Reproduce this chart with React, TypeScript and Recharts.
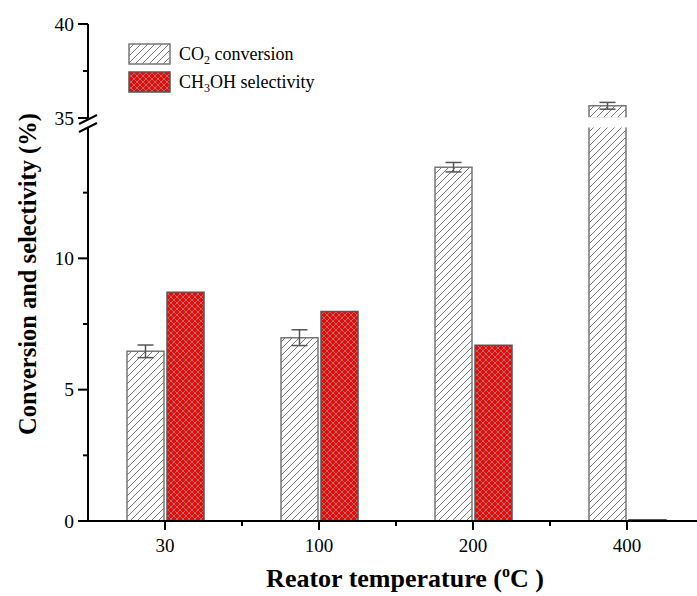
import { BarChart, Bar, XAxis, YAxis, ErrorBar, Legend } from 'recharts'

const temps = ['30', '100', '200', '400']
const co2Conversion = [6.46, 6.98, 13.47, 35.65]
const co2Error = [0.24, 0.3, 0.18, 0.18]
const ch3ohSelectivity = [8.71, 7.98, 6.69, 0.05]
const lowerTicks = [0, 2.5, 5, 7.5, 10, 12.5]
const upperTicks = [35, 37.5, 40]

// broken axis: lower part 0-15, upper part 35-40
const BREAK_LOW = 15
const BREAK_HIGH = 35

const lowerData = temps.map((t, i) => ({
  temp: t,
  co2: co2Conversion[i],
  err: co2Error[i],
  ch3oh: ch3ohSelectivity[i],
}))

const upperData = temps.map((t, i) => ({
  temp: t,
  co2: co2Conversion[i] > BREAK_HIGH ? co2Conversion[i] : null,
  err: co2Conversion[i] > BREAK_HIGH ? co2Error[i] : null,
  ch3oh: ch3ohSelectivity[i] > BREAK_HIGH ? ch3ohSelectivity[i] : null,
}))

const FONT = '"Liberation Serif", "Times New Roman", serif'
const HALF_BAND = 77

const YTick = ({ x, y, payload }: any) => {
  const v = payload.value
  const major = v % 5 === 0
  return (
    <g>
      <line x1={x - (major ? 10 : 5)} x2={x} y1={y} y2={y} stroke="#000" strokeWidth={2} />
      {major && (
        <text x={x - 14} y={y} dy={6.5} textAnchor="end" fontSize={19.5} fontFamily={FONT} fill="#000">
          {v}
        </text>
      )}
    </g>
  )
}

const XTick = ({ x, y, payload }: any) => (
  <g>
    <line x1={x} x2={x} y1={y} y2={y + 9} stroke="#000" strokeWidth={2} />
    <line x1={x + HALF_BAND} x2={x + HALF_BAND} y1={y} y2={y + 5} stroke="#000" strokeWidth={2} />
    <text x={x} y={y + 31} textAnchor="middle" fontSize={19} fontFamily={FONT} fill="#000">
      {payload.value}
    </text>
  </g>
)

const XTitle = () => (
  <text x={405} y={587} textAnchor="middle" fontSize={26} fontWeight="bold" fontFamily={FONT} fill="#000">
    <tspan>Reator temperature (</tspan>
    <tspan dy={-10} fontSize={16}>o</tspan>
    <tspan dy={10}>C )</tspan>
  </text>
)

const YTitle = () => (
  <text
    x={36}
    y={274}
    transform="rotate(-90 36 274)"
    textAnchor="middle"
    fontSize={24.5}
    fontWeight="bold"
    fontFamily={FONT}
    fill="#000"
  >
    Conversion and selectivity (%)
  </text>
)

const LegendBox = () => (
  <svg width={220} height={56} style={{ display: 'block' }}>
    <rect x={1} y={1} width={41} height={20} fill="url(#hatch)" stroke="#777" strokeWidth={1.5} />
    <rect x={1} y={29} width={41} height={20} fill="url(#cross)" stroke="#555" strokeWidth={1.5} />
    <text x={51} y={17} fontSize={18} fontFamily={FONT} fill="#000">
      <tspan>CO</tspan>
      <tspan dy={4} fontSize={12}>2</tspan>
      <tspan dy={-4}> conversion</tspan>
    </text>
    <text x={51} y={45} fontSize={18} fontFamily={FONT} fill="#000">
      <tspan>CH</tspan>
      <tspan dy={4} fontSize={12}>3</tspan>
      <tspan dy={-4}>OH selectivity</tspan>
    </text>
  </svg>
)

export default function App() {
  return (
    <div
      style={{
        position: 'fixed',
        left: 0,
        top: 0,
        width: 697,
        height: 596,
        overflow: 'hidden',
        background: '#fff',
      }}
    >
      <div style={{ position: 'absolute', left: 0, top: 0 }}>
        <BarChart
          width={704}
          height={596}
          data={lowerData}
          barGap={3}
          margin={{ top: 127, right: 0, bottom: 0, left: 0 }}
        >
          <defs>
            <pattern id="hatch" patternUnits="userSpaceOnUse" width={7} height={7}>
              <rect width={7} height={7} fill="#fff" />
              <path d="M0,7 L7,0 M-1,1 L1,-1 M6,8 L8,6" stroke="#777" strokeWidth={1} />
            </pattern>
            <pattern id="cross" patternUnits="userSpaceOnUse" width={6} height={6}>
              <rect width={6} height={6} fill="#ff0000" />
              <path d="M0,0 L6,6 M0,6 L6,0" stroke="#888" strokeWidth={0.9} />
            </pattern>
          </defs>
          <XAxis
            dataKey="temp"
            height={75}
            interval={0}
            tickSize={0}
            tickMargin={0}
            tickLine={false}
            tick={<XTick />}
            axisLine={{ stroke: '#000', strokeWidth: 2 }}
            label={<XTitle />}
          />
          <YAxis
            width={88}
            domain={[0, BREAK_LOW]}
            ticks={lowerTicks}
            interval={0}
            allowDataOverflow
            tickSize={0}
            tickMargin={0}
            tickLine={false}
            tick={<YTick />}
            axisLine={{ stroke: '#000', strokeWidth: 2 }}
            label={<YTitle />}
          />
          <Bar dataKey="co2" fill="url(#hatch)" stroke="#777" strokeWidth={1.5} barSize={37} isAnimationActive={false}>
            <ErrorBar dataKey="err" width={8} stroke="#555" strokeWidth={1.5} />
          </Bar>
          <Bar dataKey="ch3oh" fill="url(#cross)" stroke="#555" strokeWidth={1.5} barSize={37} isAnimationActive={false} />
        </BarChart>
      </div>
      <div style={{ position: 'absolute', left: 0, top: 0 }}>
        <BarChart
          width={704}
          height={132}
          data={upperData}
          barGap={3}
          margin={{ top: 24, right: 0, bottom: 14, left: 0 }}
        >
          <XAxis
            dataKey="temp"
            orientation="top"
            height={0}
            tick={false}
            tickLine={false}
            axisLine={{ stroke: '#000', strokeWidth: 2 }}
          />
          <YAxis
            width={88}
            domain={[BREAK_HIGH, 40]}
            ticks={upperTicks}
            interval={0}
            allowDataOverflow
            tickSize={0}
            tickMargin={0}
            tickLine={false}
            tick={<YTick />}
            axisLine={{ stroke: '#000', strokeWidth: 2 }}
          />
          <Legend
            layout="vertical"
            align="center"
            verticalAlign="middle"
            content={<LegendBox />}
            wrapperStyle={{ left: 128, top: 43, width: 220, height: 56 }}
          />
          <Bar dataKey="co2" fill="url(#hatch)" stroke="#777" strokeWidth={1.5} barSize={37} isAnimationActive={false}>
            <ErrorBar dataKey="err" width={8} stroke="#555" strokeWidth={1.5} />
          </Bar>
          <Bar dataKey="ch3oh" fill="url(#cross)" stroke="#555" strokeWidth={1.5} barSize={37} isAnimationActive={false} />
        </BarChart>
      </div>
      <svg
        width={697}
        height={596}
        style={{ position: 'absolute', left: 0, top: 0, pointerEvents: 'none' }}
      >
        {/* white gap across the plot where the axis is broken */}
        <rect x={90} y={117.2} width={607} height={10.3} fill="#fff" />
        <line x1={79} y1={124} x2={97} y2={115} stroke="#000" strokeWidth={2} />
        <line x1={79} y1={132} x2={97} y2={123} stroke="#000" strokeWidth={2} />
      </svg>
    </div>
  )
}
